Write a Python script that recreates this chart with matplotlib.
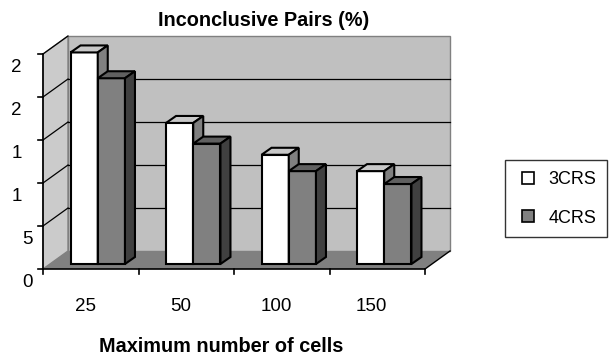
import numpy as np
import matplotlib.pyplot as plt
from matplotlib.patches import Polygon
from matplotlib.lines import Line2D

plt.rcParams['font.family'] = ['Liberation Sans', 'DejaVu Sans']

# Data
categories = ['25', '50', '100', '150']
crs3 = [24.6, 16.4, 12.7, 10.8]
crs4 = [21.6, 14.0, 10.8, 9.3]
yticks = [0, 5, 10, 15, 20, 25]
yticklabels = ['0', '5', '1', '1', '2', '2']
ymax = 25

# Layout (pixel mapping for the pseudo-3D excel look)
W, H = 613, 355
X0, SX = 43, 95.5      # px of x=0, px per category
Y0, SY = 269, 8.6      # px (from top) of y=0, px per unit
DX, DY = 25 / SX, 18 / SY      # wall depth
FX, FY = 7 / SX, 5 / SY        # bar front offset
BX, BY = 10 / SX, 7 / SY       # bar depth
BW = 0.285                     # bar width

fig = plt.figure(figsize=(W / 100, H / 100), dpi=100)
ax = fig.add_axes([0, 0, 1, 1])
ax.set_xlim(-X0 / SX, (W - X0) / SX)
ax.set_ylim(-(H - Y0) / SY, Y0 / SY)
ax.axis('off')

n = len(categories)

# walls and floor
ax.add_patch(Polygon([(DX, DY), (n + DX, DY), (n + DX, ymax + DY), (DX, ymax + DY)],
                     closed=True, fc='#c0c0c0', ec='#808080', lw=1, zorder=1))
ax.add_patch(Polygon([(0, 0), (DX, DY), (DX, ymax + DY), (0, ymax)],
                     closed=True, fc='#cbcbcb', ec='#808080', lw=1, zorder=1))
ax.add_patch(Polygon([(0, 0), (n, 0), (n + DX, DY), (DX, DY)],
                     closed=True, fc='#808080', ec='none', lw=0, zorder=1))
ax.plot([n, n + DX], [0, DY], color='black', lw=1, zorder=2)

# gridlines
for v in yticks[1:-1]:
    ax.plot([DX, n + DX], [v + DY, v + DY], color='black', lw=0.9, zorder=2)
for v in yticks[1:]:
    ax.plot([0, DX], [v, v + DY], color='black', lw=0.9, zorder=2)

# axes lines and ticks
ax.plot([0, 0], [0, ymax], color='black', lw=1.2, zorder=3)
ax.plot([0, n], [0, 0], color='black', lw=1.2, zorder=3)
for v in yticks:
    ax.plot([-5 / SX, 0], [v, v], color='black', lw=1.2, zorder=3)
for i in range(n + 1):
    ax.plot([i, i], [0, -5 / SY], color='black', lw=1.2, zorder=3)

# y tick labels (excel truncated them)
for v, lab in zip(yticks, yticklabels):
    xr = (22 if v >= 10 else 33) - X0
    ax.text(xr / SX, v - 1.6, lab, ha='right', va='center', fontsize=13.5)


def bar3d(x, h, front, top, side, z):
    x0 = x + FX
    y0 = FY
    kw = dict(closed=True, ec='black', lw=1.5, zorder=z, joinstyle='miter')
    ax.add_patch(Polygon([(x0, y0), (x0 + BW, y0), (x0 + BW, y0 + h), (x0, y0 + h)], fc=front, **kw))
    ax.add_patch(Polygon([(x0, y0 + h), (x0 + BW, y0 + h), (x0 + BW + BX, y0 + h + BY),
                          (x0 + BX, y0 + h + BY)], fc=top, **kw))
    ax.add_patch(Polygon([(x0 + BW, y0), (x0 + BW + BX, y0 + BY), (x0 + BW + BX, y0 + h + BY),
                          (x0 + BW, y0 + h)], fc=side, **kw))


for i in range(n):
    c = i + 0.5
    bar3d(c - BW, crs3[i], 'white', '#c8c8c8', '#808080', 4)
    bar3d(c, crs4[i], '#808080', '#606060', '#404040', 5)
    ax.text(c - 0.06, -4.4, categories[i], ha='center', va='center', fontsize=13.5)

fig.text(263.5 / W, 1 - 20.5 / H, 'Inconclusive Pairs (%)', ha='center', va='center',
         fontsize=14.3, fontweight='bold')
fig.text(221 / W, 1 - 346 / H, 'Maximum number of cells', ha='center', va='center',
         fontsize=14.3, fontweight='bold')

handles = [Line2D([], [], ls='none', marker='s', ms=8, mfc='white', mec='black', mew=1.2),
           Line2D([], [], ls='none', marker='s', ms=8, mfc='#808080', mec='black', mew=1.2)]
leg = fig.legend(handles, ['3CRS', '4CRS'], loc='upper left',
                 bbox_to_anchor=(505 / W, 1 - 160 / H), frameon=True, fancybox=False,
                 edgecolor='black', fontsize=13, labelspacing=1.2, handlelength=1.4,
                 handletextpad=0.4, borderpad=0.6, borderaxespad=0)
leg.get_frame().set_linewidth(1)

fig.savefig('out.png', dpi=100)
